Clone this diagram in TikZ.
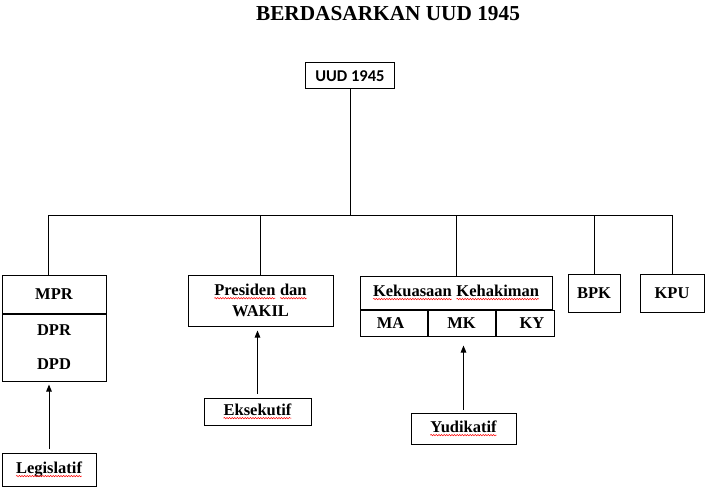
\documentclass[tikz,border=0pt]{standalone}
\usepackage{fontspec}
\setmainfont{Liberation Serif}
\newfontfamily\calibri{Carlito}
\usetikzlibrary{arrows.meta,positioning,decorations.pathmorphing}

% red spell-check underline
\newcommand\squig[1]{\tikz[baseline=(sq.base)]{\node[draw=none,fill=none,inner sep=0pt,outer sep=0pt,
    minimum width=0pt,minimum height=0pt,rectangle] (sq) {#1};
  \draw[red,line width=0.5pt,decorate,decoration={snake,amplitude=0.7pt,segment length=2.6pt}]
    ([yshift=-2.6pt]sq.base west) -- ([yshift=-2.6pt]sq.base east);}}

\begin{document}
\begin{tikzpicture}[x=1pt,y=-1pt,
    every node/.style={font=\bfseries\fontsize{16.5}{19}\selectfont},
    box/.style={draw,line width=1pt,inner sep=0pt,align=center},
    link/.style={line width=1pt},
    arr/.style={line width=1pt,-{Triangle[length=7pt,width=5.5pt]}}]
  \useasboundingbox (0,0) rectangle (708,500);

  \node (title) at (388,14) {\fontsize{21.3}{24}\selectfont BERDASARKAN UUD 1945};
  \node[box,minimum width=89,minimum height=26] (uud) at (350,76) {\calibri UUD 1945};

  % top row
  \node[box,minimum width=104,minimum height=38] (mpr) at (54,294) {MPR};
  \node[box,minimum width=104,minimum height=67,below=0pt of mpr,
        font=\bfseries\fontsize{16.5}{34}\selectfont] (mprlow) {DPR\\DPD};
  \node[box,minimum width=145,minimum height=51,font=\bfseries\fontsize{16.5}{21}\selectfont]
    (pres) at (260.5,300.5) {\squig{Presiden} \squig{dan}\\WAKIL};
  \node[box,minimum width=192,minimum height=33] (kk) at (456,292.5)
    {\squig{Kekuasaan} \squig{Kehakiman}};
  \node[box,minimum width=67,minimum height=26,below right=0pt and 0pt of kk.south west] (ma) {MA\hspace*{6pt}};
  \node[box,minimum width=67,minimum height=26,right=0pt of ma] (mk) {MK};
  \node[box,minimum width=58,minimum height=26,right=0pt of mk] (ky) {\hspace*{14pt}KY};
  \node[box,minimum width=52,minimum height=38] (bpk) at (594,293) {BPK};
  \node[box,minimum width=64,minimum height=38] (kpu) at (672,293) {KPU};

  % bottom row
  \node[box,minimum width=94,minimum height=33] (legis) at (49,469.5) {\squig{Legislatif}};
  \node[box,minimum width=107,minimum height=27] (eks) at (257.5,411.5) {\squig{Eksekutif}};
  \node[box,minimum width=105,minimum height=31] (yud) at (463.5,428.5) {\squig{Yudikatif}};

  % tree lines
  \coordinate (bus) at (350,215);
  \draw[link] (uud.south) -- (bus);
  \draw[link] ([xshift=-6pt]mpr.north |- bus) -- (kpu.north |- bus);
  \draw[link] ([xshift=-6pt]mpr.north) -- ([xshift=-6pt]mpr.north |- bus);
  \foreach \n in {pres,kk,bpk,kpu}
    \draw[link] (\n.north) -- (\n.north |- bus);

  \draw[arr,shorten <=4pt,shorten >=3pt] (legis.north) -- (legis.north |- mprlow.south);
  \draw[arr,shorten <=4pt,shorten >=4pt] (eks.north) -- (eks.north |- pres.south);
  \draw[arr,shorten <=3pt,shorten >=9pt] (yud.north) -- (yud.north |- mk.south);
\end{tikzpicture}
\end{document}
